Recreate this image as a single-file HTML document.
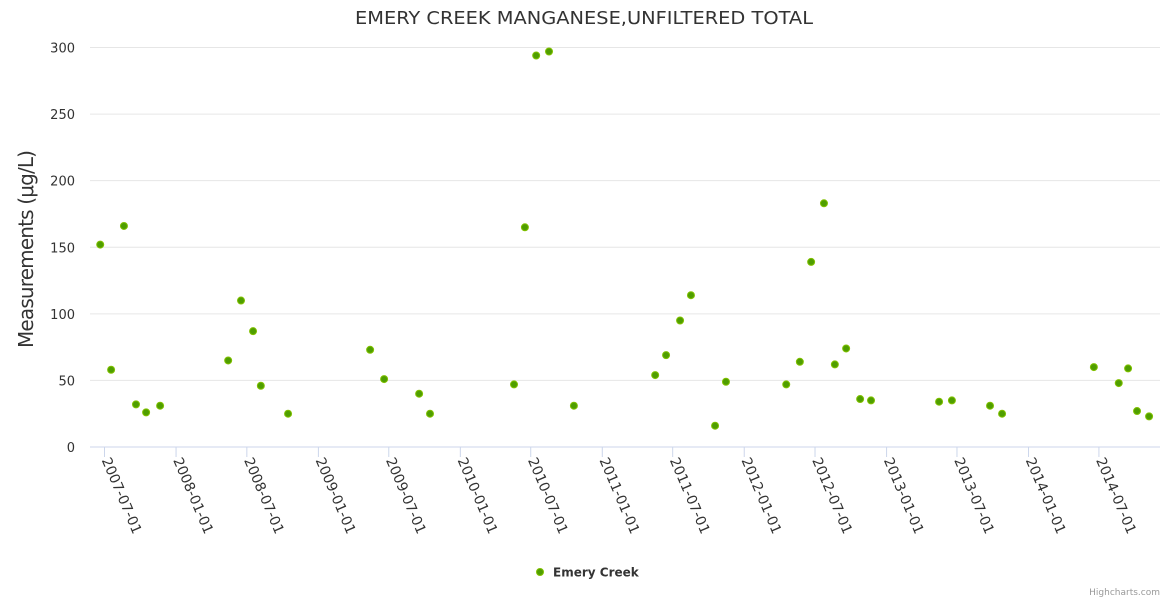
<!DOCTYPE html>
<html><head><meta charset="utf-8"><style>
body{margin:0;background:#fff;font-family:"DejaVu Sans",sans-serif}
</style></head><body>
<svg id="c" width="1170" height="600" xmlns="http://www.w3.org/2000/svg">
<text x="584" y="24" text-anchor="middle" font-size="18" fill="#333" textLength="458" lengthAdjust="spacingAndGlyphs">EMERY CREEK MANGANESE,UNFILTERED TOTAL</text>
<text transform="translate(33,249) rotate(-90)" text-anchor="middle" font-size="20" fill="#333" textLength="198">Measurements (μg/L)</text>
<g id="grid"></g><g id="xaxis"></g><g id="pts"></g>
<g>
<circle cx="540" cy="572" r="3.5" fill="#4f9e00" stroke="#80c000"/>
<text x="553" y="576.5" font-size="12" font-weight="bold" fill="#333">Emery Creek</text>
</g>
<text x="1160" y="595" text-anchor="end" font-size="9" fill="#999">Highcharts.com</text>
</svg>
<script>
const dates=["2007-06-20","2007-07-18","2007-08-20","2007-09-20","2007-10-16","2007-11-21","2008-05-14","2008-06-16","2008-07-17","2008-08-06","2008-10-15","2009-05-14","2009-06-19","2009-09-17","2009-10-15","2010-05-19","2010-06-16","2010-07-15","2010-08-17","2010-10-20","2011-05-17","2011-06-14","2011-07-20","2011-08-17","2011-10-18","2011-11-15","2012-04-18","2012-05-23","2012-06-21","2012-07-24","2012-08-21","2012-09-19","2012-10-25","2012-11-22","2013-05-16","2013-06-18","2013-09-24","2013-10-25","2014-06-18","2014-08-21","2014-09-14","2014-10-07","2014-11-07"];
const values=[152,58,166,32,26,31,65,110,87,46,25,73,51,40,25,47,165,294,297,31,54,69,95,114,16,49,47,64,139,183,62,74,36,35,34,35,31,25,60,48,59,27,23];
const yTicks=[0,50,100,150,200,250,300];
const xTicks=["2007-07-01","2008-01-01","2008-07-01","2009-01-01","2009-07-01","2010-01-01","2010-07-01","2011-01-01","2011-07-01","2012-01-01","2012-07-01","2013-01-01","2013-07-01","2014-01-01","2014-07-01"];
const NS="http://www.w3.org/2000/svg";
const d0=Date.UTC(2007,6,1);
function day(s){const p=s.split('-');return (Date.UTC(+p[0],p[1]-1,+p[2])-d0)/86400000;}
function X(s){return 104.5+day(s)*0.3889;}
function Y(v){return 447-v*(399.5/300);}
function mk(t,a,parent){const e=document.createElementNS(NS,t);for(const k in a)e.setAttribute(k,a[k]);parent.appendChild(e);return e;}
const grid=document.getElementById('grid'),xa=document.getElementById('xaxis'),pts=document.getElementById('pts');
yTicks.forEach(v=>{
  const l=mk('line',{x1:90,x2:1160,y1:Y(v),y2:Y(v),stroke:v===0?'#ccd6eb':'#e6e6e6'},grid);
  
  
  const t=mk('text',{x:75,y:Y(v)+5,'text-anchor':'end','font-size':13,fill:'#333'},grid);
  t.textContent=v;
  
  
});
xTicks.forEach(s=>{
  const x=X(s);
  const l=mk('line',{x1:x,x2:x,y1:447,y2:457,stroke:'#ccd6eb'},xa);
  
  
  const t=mk('text',{transform:`translate(${x-3},460) rotate(67)`,'font-size':14,fill:'#333'},xa);
  t.textContent=s;
  
  
});
dates.forEach((s,i)=>{
  const c=mk('circle',{cx:X(s),cy:Y(values[i]),r:3.5,fill:'#4f9e00',stroke:'#80c000','stroke-width':1},pts);
  
  
});
</script>
</body></html>
